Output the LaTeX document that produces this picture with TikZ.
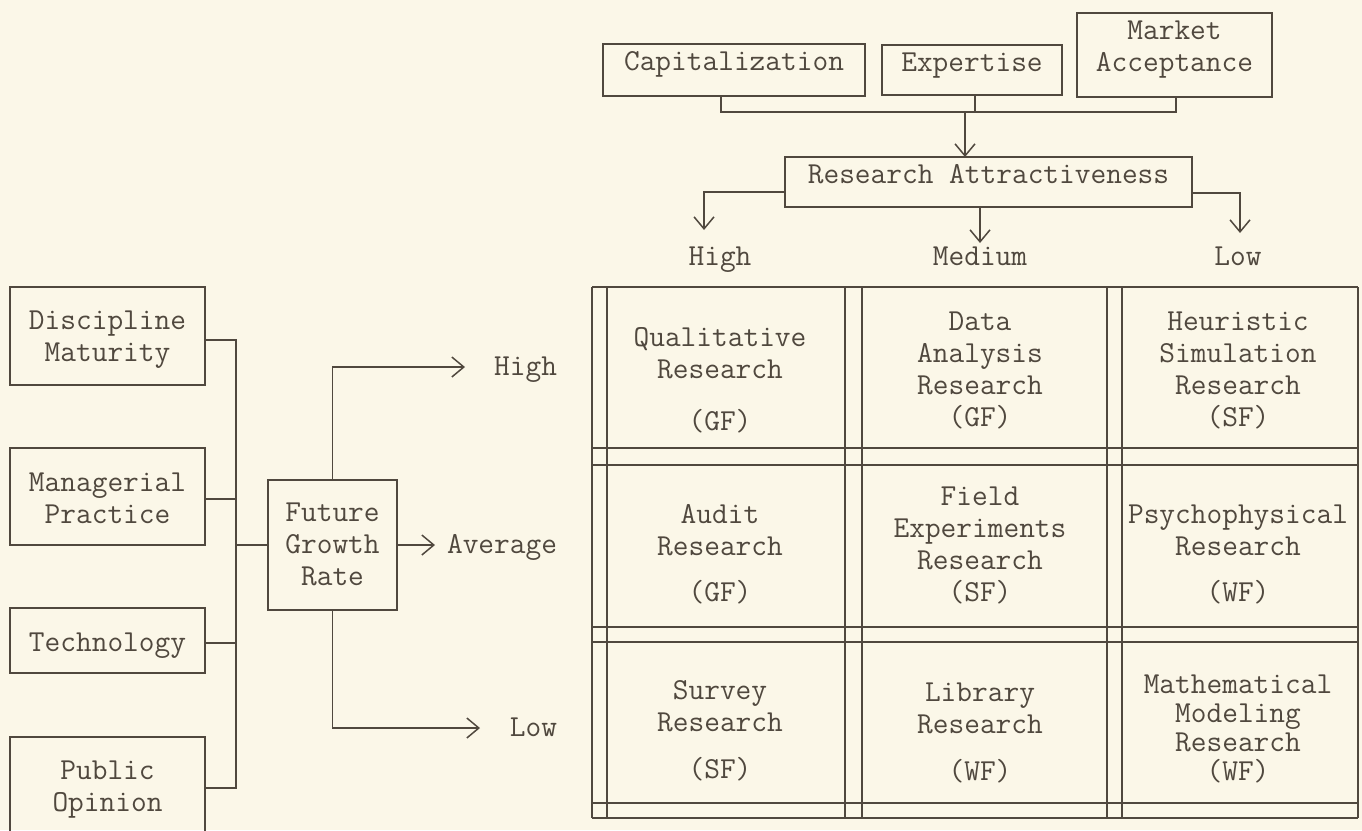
\documentclass[tikz,border=0pt]{standalone}
\usepackage{fontspec}
\usetikzlibrary{arrows.meta}
\definecolor{ink}{RGB}{80,72,62}
\definecolor{paper}{RGB}{251,247,232}
\newcommand\mlines[1]{\begin{tabular}[b]{@{}c@{}}#1\end{tabular}}
\tikzset{
  txt/.style={text=ink,font=\ttfamily\fontsize{30.5}{32}\selectfont,inner sep=0pt,outer sep=0pt,anchor=base},
  box/.style={txt,draw=ink,line width=1.5pt},
  wire/.style={draw=ink,line width=1.5pt},
  arr/.style={wire,-{Straight Barb[length=12pt,width=20pt,line width=1.5pt]}},
  rule/.style={draw=ink,line width=1.3pt},
}
\begin{document}
\begin{tikzpicture}[x=1pt,y=-1pt]
\fill[paper] (0,0) rectangle (1362,830);
\useasboundingbox (0,0) rectangle (1362,830);
\clip (0,0) rectangle (1362,830);

% ---------- top factors ----------
\node[box,minimum width=262pt,text height=26pt,text depth=26pt] (cap) at (734,70) {Capitalization};
\node[box,minimum width=180pt,text height=26pt,text depth=24pt] (exp) at (972,71) {Expertise};
\node[box,minimum width=195pt,text height=58pt,text depth=26pt] (mkt) at (1174.5,71) {\mlines{Market\\Acceptance}};
\node[box,minimum width=407pt,text height=26pt,text depth=24pt] (ra) at (988.5,183) {Research Attractiveness};

\coordinate (jL) at (721,112);
\coordinate (jR) at (1176,112);
\draw[wire] (cap.south -| jL) -- (jL) -- (jR) -- (mkt.south -| jR);
\coordinate (eJ) at (975,112);
\draw[wire] (exp.south -| eJ) -- (eJ);
\coordinate (raIn) at (965,112);
\draw[arr] (raIn) -- (ra.north -| raIn);

\coordinate (hiA) at (704,230);
\coordinate (raL) at (0,192);
\draw[arr] (ra.west |- raL) -| (hiA);
\coordinate (meA) at (980,243);
\draw[arr] (ra.south -| meA) -- (meA);
\coordinate (loA) at (1240,233);
\coordinate (raR) at (0,193);
\draw[arr] (ra.east |- raR) -| (loA);

\node[txt] (hiL) at (720,265) {High};
\node[txt] (meL) at (980,265) {Medium};
\node[txt] (loL) at (1238,265) {Low};

% ---------- grid ----------
\foreach \y in {287,448,465,627,642,803,818} \draw[rule] (592,\y) -- (1358,\y);
\foreach \x in {592,607,845,862,1107,1122,1358} \draw[rule] (\x,287) -- (\x,818);

\node[txt] (c11) at (720,430) {\mlines{Qualitative\\Research\\[20pt](GF)}};
\node[txt] (c12) at (980,426) {\mlines{Data\\Analysis\\Research\\(GF)}};
\node[txt] (c13) at (1238,426) {\mlines{Heuristic\\Simulation\\Research\\(SF)}};
\node[txt] (c21) at (720,601) {\mlines{Audit\\Research\\[14pt](GF)}};
\node[txt] (c22) at (980,601) {\mlines{Field\\Experiments\\Research\\(SF)}};
\node[txt] (c23) at (1238,601) {\mlines{Psychophysical\\Research\\[14pt](WF)}};
\node[txt] (c31) at (720,778) {\mlines{Survey\\Research\\[15pt](SF)}};
\node[txt] (c32) at (980,780) {\mlines{Library\\Research\\[15pt](WF)}};
\node[txt] (c33) at (1238,780) {\mlines{Mathematical\\[-3pt]Modeling\\[-3pt]Research\\[-3pt](WF)}};

% ---------- left factors ----------
\node[box,minimum width=195pt,text height=74pt,text depth=24pt] (dm) at (107.5,361) {\mlines{Discipline\\Maturity}};
\node[box,minimum width=195pt,text height=75pt,text depth=22pt] (mp) at (107.5,523) {\mlines{Managerial\\Practice}};
\node[box,minimum width=195pt,text height=43pt,text depth=22pt] (tech) at (107.5,651) {Technology};
\node[box,minimum width=195pt,text height=74pt,text depth=29pt] (po) at (107.5,811) {\mlines{Public\\Opinion}};
\node[box,minimum width=129pt,text height=105pt,text depth=25pt] (fgr) at (332.5,585) {\mlines{Future\\Growth\\Rate}};

\coordinate (bT) at (236,340);
\coordinate (bB) at (236,788);
\draw[wire] (dm.east |- bT) -- (bT) -- (bB) -- (po.east |- bB);
\coordinate (bM) at (236,499);
\draw[wire] (mp.east |- bM) -- (bM);
\coordinate (bTe) at (236,643);
\draw[wire] (tech.east |- bTe) -- (bTe);
\coordinate (bF) at (236,545);
\draw[wire] (bF) -- (fgr.west |- bF);

\coordinate (gHi) at (465,367);
\draw[arr] (fgr.north) |- (gHi);
\coordinate (gAv) at (435,545);
\draw[arr] (fgr.east |- gAv) -- (gAv);
\coordinate (gLo) at (480,728);
\draw[arr] (fgr.south) |- (gLo);

\node[txt,anchor=base east] (ghL) at (557,375) {High};
\node[txt,anchor=base east] (gaL) at (557,553) {Average};
\node[txt,anchor=base east] (glL) at (557,736) {Low};
\end{tikzpicture}
\end{document}
